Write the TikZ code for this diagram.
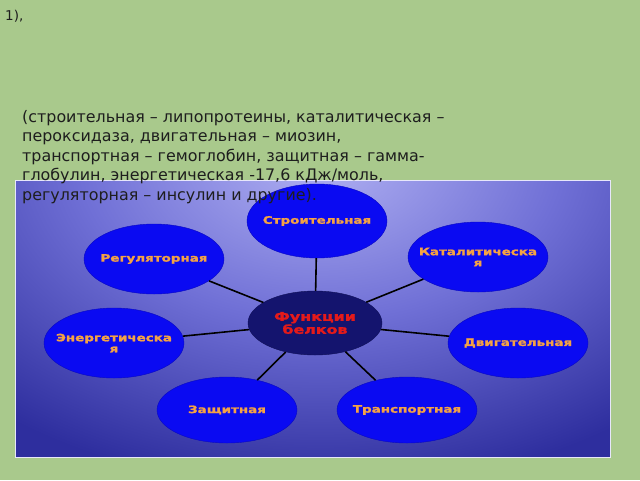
\documentclass[tikz,border=0pt]{standalone}
\usepackage{fontspec}
\setmainfont{DejaVu Sans}
\newfontfamily\lblfont{DejaVu Sans Bold}[FakeStretch=1.32, FakeBold=1.6]
\usetikzlibrary{shapes.geometric}
\definecolor{bggreen}{HTML}{A9C98C}
\definecolor{pinner}{HTML}{B0B0F2}
\definecolor{pmid}{HTML}{7070D6}
\definecolor{pouter}{HTML}{2E2E9E}
\definecolor{ellblue}{HTML}{0A0AF2}
\definecolor{ellnavy}{HTML}{14146E}
\definecolor{lblorange}{HTML}{F4A244}
\definecolor{lblred}{HTML}{E41A1A}
\definecolor{txtdark}{HTML}{1E1E1E}
\pgfdeclareradialshading{panelshade}{\pgfpoint{0bp}{0bp}}{color(0bp)=(pinner); color(12bp)=(pmid); color(25bp)=(pouter); color(50bp)=(pouter)}
\newcommand{\zw}[1]{\makebox[0pt][c]{#1}}
\tikzset{
  func/.style={ellipse, fill=ellblue, draw=ellblue!80!black, line width=0.4pt,
    minimum width=140pt, minimum height=70pt, inner sep=0pt, align=center,
    text=lblorange, font=\lblfont\fontsize{10.2}{11}\selectfont},
  hub/.style={ellipse, fill=ellnavy, draw=ellnavy!80!black, line width=0.4pt,
    minimum width=134pt, minimum height=64pt, inner sep=0pt, align=center,
    text=lblred, font=\lblfont\fontsize{12}{13}\selectfont},
  spoke/.style={draw=black, line width=1.6pt}
}
\begin{document}
\begin{tikzpicture}[x=1pt,y=-1pt]
\useasboundingbox (0,0) rectangle (640,480);
\fill[bggreen] (0,0) rectangle (640,480);
% panel
\begin{scope}
  \clip (15,180) rectangle (610,457);
  \fill[pouter] (15,180) rectangle (610,457);
  \shade[shading=panelshade] (320,160) ellipse [x radius=500, y radius=330];
\end{scope}
\draw[white!70!pinner, line width=0.8pt] (15,180) rectangle (610,457);
% nodes
\node[hub]  (fun) at (315,323) {\zw{Функции}\\\zw{белков}};
\node[func] (str) at (317,221) [minimum height=74pt] {\zw{Строительная}};
\node[func] (reg) at (154,259) {\zw{Регуляторная}};
\node[func] (kat) at (478,257) {\zw{Каталитическа}\\\zw{я}};
\node[func] (ene) at (114,343) {\zw{Энергетическа}\\\zw{я}};
\node[func] (dvi) at (518,343) {\zw{Двигательная}};
\node[func] (zas) at (227,410) [minimum height=66pt] {\zw{Защитная}};
\node[func] (tra) at (407,410) [minimum height=66pt] {\zw{Транспортная}};
% spokes
\foreach \n in {str,reg,kat,ene,dvi,zas,tra}{
  \draw[spoke] (fun) -- (\n);
}
% texts
\node[anchor=north west, inner sep=0pt, text=txtdark,
      font=\fontsize{13.5}{15}\selectfont] (num) at (5,10) {1),};
\node[anchor=north west, inner sep=0pt, align=left, text=txtdark,
      font=\fontsize{15.9}{19.5}\selectfont] (para) at (22,110)
  {(строительная – липопротеины, каталитическая –\\
   пероксидаза, двигательная – миозин,\\
   транспортная – гемоглобин, защитная – гамма-\\
   глобулин, энергетическая -17,6 кДж/моль,\\
   регуляторная – инсулин и другие).};
\end{tikzpicture}
\end{document}
